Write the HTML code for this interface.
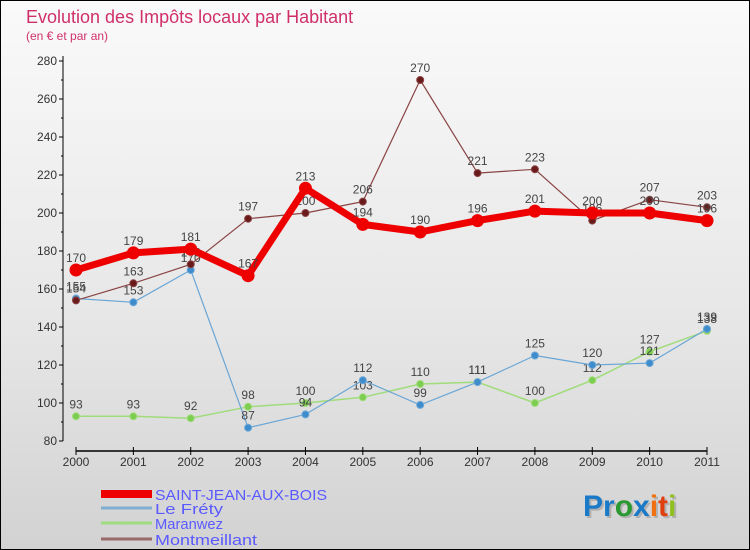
<!DOCTYPE html>
<html><head><meta charset="utf-8"><style>
body{margin:0;width:750px;height:550px;overflow:hidden;font-family:"Liberation Sans",sans-serif}
#wrap{position:relative;width:748px;height:548px;border:1px solid #000;background:linear-gradient(#fafafa,#e6e6e6 60%,#d2d2d2)}
</style></head><body>
<div id="wrap">
<svg id="chart" width="748" height="548" style="position:absolute;left:0;top:0">
<text x="25" y="22" font-size="18" fill="#d0306a">Evolution des Impôts locaux par Habitant</text>
<text x="25" y="39" font-size="12" fill="#d0306a">(en € et par an)</text>
<g id="axes"></g><g id="series"></g><g id="legend"></g>
<text x="584" y="517" font-size="30" font-weight="bold" fill="#999" opacity="0.6">Proxiti</text>
<text x="582" y="515" font-size="30" font-weight="bold"><tspan fill="#1a7ac8">Pr</tspan><tspan fill="#2a9a30">o</tspan><tspan fill="#1a7ac8">x</tspan><tspan fill="#f07010">i</tspan><tspan fill="#e04010">t</tspan><tspan fill="#90c020">i</tspan></text>
</svg>
</div>
<script>
const years=["2000","2001","2002","2003","2004","2005","2006","2007","2008","2009","2010","2011"];
const yTicks=[80,100,120,140,160,180,200,220,240,260,280];
const sjValues=[170,179,181,167,213,194,190,196,201,200,200,196];
const fretyValues=[155,153,170,87,94,112,99,111,125,120,121,139];
const maranwezValues=[93,93,92,98,100,103,110,111,100,112,127,138];
const montValues=[154,163,173,197,200,206,270,221,223,196,207,203];
const seriesNames=["SAINT-JEAN-AUX-BOIS","Le Fréty","Maranwez","Montmeillant"];
const NS="http://www.w3.org/2000/svg";
const xS=i=>75+i*(706-75)/11;
const yS=v=>440-(v-80)*1.9;
function mk(t,a,p){const e=document.createElementNS(NS,t);for(const k in a)e.setAttribute(k,a[k]);p.appendChild(e);return e;}
const ax=document.getElementById('axes');
let yl=mk('line',{x1:62,y1:55,x2:62,y2:440,stroke:'#000'},ax);


yTicks.forEach(v=>{
 mk('line',{x1:58,x2:62,y1:yS(v),y2:yS(v),stroke:'#000'},ax);
 if(v<280){mk('line',{x1:60,x2:62,y1:yS(v+10),y2:yS(v+10),stroke:'#000'},ax);}
 const t=mk('text',{x:56,y:yS(v)+4,'font-size':12,fill:'#333','text-anchor':'end'},ax);t.textContent=v;
 
 
});
let xl=mk('line',{x1:75,y1:450,x2:706,y2:450,stroke:'#000','stroke-width':1.5},ax);


years.forEach((y,i)=>{
 mk('line',{x1:xS(i),x2:xS(i),y1:446,y2:454,stroke:'#000'},ax);
 const t=mk('text',{x:xS(i),y:465,'font-size':12,fill:'#333','text-anchor':'middle'},ax);t.textContent=y;
 
 
});
const sg=document.getElementById('series');
function draw(vals,color,w,r,fill,name){
 const g=mk('g',{},sg);
 
 
 mk('polyline',{points:vals.map((v,i)=>xS(i)+','+yS(v)).join(' '),fill:'none',stroke:color,'stroke-width':w,'stroke-linejoin':'round'},g);
 vals.forEach((v,i)=>{
  const c=mk('circle',{cx:xS(i),cy:yS(v),r:r,fill:fill,stroke:color,'stroke-width':1},g);
  
  
  const t=mk('text',{x:xS(i),y:yS(v)-8,'font-size':12,fill:'#444','text-anchor':'middle'},g);t.textContent=v;
  
  
 });
}
draw(maranwezValues,'#9fdc7a',1.5,3.5,'#7ccd50','series-maranwez');
draw(fretyValues,'#6aa6d6',1.2,3.5,'#3f8ccc','series-le-frety');
draw(montValues,'#8a4444',1.2,3.5,'#6a1a1a','series-montmeillant');
draw(sjValues,'#ee0000',7,6,'#ee0000','series-saint-jean');
const lg=document.getElementById('legend');
const lc=['#ee0000','#80aed0','#a0dc80','#9a6a6a'],lw=[8,3,3,3],ly=[493,507,522,538];
seriesNames.forEach((n,i)=>{
 const g=mk('g',{},lg);
 
 
 mk('line',{x1:100,x2:151,y1:ly[i],y2:ly[i],stroke:lc[i],'stroke-width':lw[i]},g);
 const t=mk('text',{x:154,y:ly[i]+6,'font-size':15,fill:'#5a5aff','textLength':n.length>12?172:(n.length*8.5),'lengthAdjust':'spacingAndGlyphs'},g);t.textContent=n;
});
</script>
</body></html>
